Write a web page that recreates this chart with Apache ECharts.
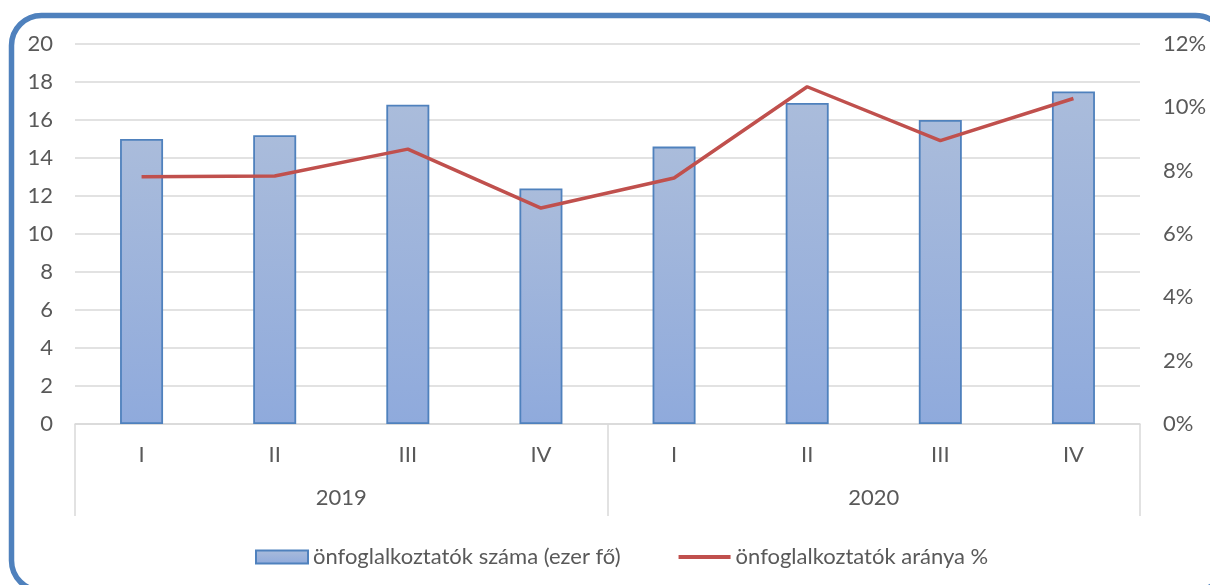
<!DOCTYPE html>
<html>
<head>
<meta charset="utf-8">
<script src="https://cdn.jsdelivr.net/npm/echarts@6/dist/echarts.min.js"></script>
<style>html,body{margin:0;padding:0;background:#fff}#c{width:1210px;height:585px}</style>
</head>
<body>
<div id="c"></div>
<script>
var quarters = ['I','II','III','IV','I','II','III','IV'];
var years = ['2019','2020'];
var countValues = [15.0, 15.2, 16.8, 12.4, 14.6, 16.9, 16.0, 17.5];
var rateValues = [7.81, 7.83, 8.68, 6.82, 7.77, 10.65, 8.95, 10.28];
var countName = 'önfoglalkoztatók száma (ezer fő)';
var rateName = 'önfoglalkoztatók aránya %';

var FONT = 'Lato';
var TXT = '#595959';
var FS = 22;
var chart = echarts.init(document.getElementById('c'));
chart.setOption({
  animation: false,
  textStyle: {fontFamily: FONT},
  graphic: [{
    type: 'rect', z: 100, silent: true,
    shape: {x: 11.5, y: 15.5, width: 1214, height: 575, r: 30},
    style: {fill: 'none', stroke: '#4f81bd', lineWidth: 5.5}
  }],
  grid: {left: 75, right: 70, top: 44, bottom: 161, containLabel: false},
  legend: {
    left: 250, top: 541, itemWidth: 52, itemHeight: 13, itemGap: 56,
    textStyle: {color: TXT, fontSize: 22, fontFamily: FONT},
    data: [{name: countName, icon: 'rect'},
           {name: rateName, itemStyle: {opacity: 0}, lineStyle: {width: 4, color: '#c0504d'}}]
  },
  xAxis: [{
    type: 'category', data: quarters, position: 'bottom',
    axisLine: {show: true, lineStyle: {color: '#d9d9d9', width: 1.5}},
    axisTick: {show: false},
    axisLabel: {color: TXT, fontSize: FS, margin: 20, fontFamily: FONT}
  }, {
    type: 'category', data: years, position: 'bottom',
    axisLine: {show: false},
    axisTick: {show: true, length: 92, interval: 0, lineStyle: {color: '#d9d9d9', width: 1.5}},
    axisLabel: {color: TXT, fontSize: FS, margin: 63, fontFamily: FONT}
  }],
  yAxis: [{
    type: 'value', min: 0, max: 20, interval: 2,
    axisLine: {show: false}, axisTick: {show: false},
    splitLine: {lineStyle: {color: '#d9d9d9', width: 1.5}},
    axisLabel: {color: TXT, fontSize: FS, margin: 22, fontFamily: FONT}
  }, {
    type: 'value', min: 0, max: 12, interval: 2,
    axisLine: {show: false}, axisTick: {show: false}, splitLine: {show: false},
    axisLabel: {color: TXT, fontSize: FS, margin: 23, fontFamily: FONT, formatter: '{value}%'}
  }],
  series: [{
    name: countName, type: 'bar', data: countValues, barWidth: 43,
    xAxisIndex: 0, yAxisIndex: 0,
    itemStyle: {
      color: new echarts.graphic.LinearGradient(0,0,0,1,[{offset:0,color:'#aabcdb'},{offset:1,color:'#8faadc'}]),
      borderColor: '#4f81bd', borderWidth: 1.8
    }
  }, {
    name: rateName, type: 'line', data: rateValues, yAxisIndex: 1,
    symbol: 'none', lineStyle: {color: '#c0504d', width: 3.5}, itemStyle: {color: '#c0504d'}
  }]
});
</script>
</body>
</html>
